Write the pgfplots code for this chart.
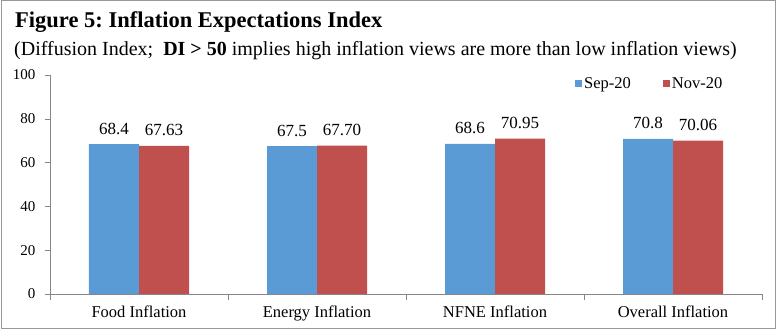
\documentclass[border=0pt]{standalone}
\usepackage{pgfplots}
\pgfplotsset{compat=1.18}
\usepackage{fontspec}
\setmainfont{Liberation Serif}
\definecolor{sepblue}{HTML}{5B9BD5}
\definecolor{novred}{HTML}{C0504D}
\definecolor{axgray}{HTML}{868686}
\begin{document}
\frenchspacing
\begin{tikzpicture}
\path[use as bounding box] (0pt,0pt) rectangle (780pt,332pt);
\draw[color=black!40, line width=1pt] (1.5pt,3.5pt) rectangle (775.5pt,331pt);
\node[anchor=base west, inner sep=0pt, font=\fontsize{22.5}{26}\selectfont\bfseries] at (15pt,304pt) {Figure 5: Inflation Expectations Index};
\node[anchor=base west, inner sep=0pt, font=\fontsize{20}{24}\selectfont] at (14pt,276pt) {(Diffusion Index;\ \ \textbf{DI > 50} implies high inflation views are more than low inflation views)};
\begin{axis}[
  at={(50pt,38pt)}, anchor=south west,
  width=712pt, height=219pt, scale only axis,
  xmin=-0.5, xmax=3.5, ymin=0, ymax=100,
  axis x line=bottom, axis y line=left,
  axis line style={axgray, -},
  tick align=outside,
  ytick={0,20,40,60,80,100},
  ytick style={axgray},
  major tick length=5pt,
  xtick={0,1,2,3},
  xticklabels={Food Inflation, Energy Inflation, NFNE Inflation, Overall Inflation},
  major x tick style={draw=none},
  minor xtick={-0.5,0.5,1.5,2.5,3.5},
  minor x tick style={axgray},
  minor tick length=6pt,
  /pgf/number format/assume math mode=true,
  yticklabel style={font=\fontsize{15}{18}\selectfont, xshift=-6pt},
  xticklabel style={font=\fontsize{16.5}{19}\selectfont, yshift=-3pt},
  ybar, bar width=50pt,
  nodes near coords, point meta=explicit symbolic,
  every node near coord/.append style={font=\fontsize{17}{20}\selectfont, anchor=base, yshift=10pt, inner sep=0pt},
  legend style={at={(0.733,0.962)}, anchor=west, draw=none, fill=none,
    font=\fontsize{16.5}{19}\selectfont,
    /tikz/every even column/.append style={column sep=30pt}},
  legend columns=2,
  legend image code/.code={\fill[#1] (0pt,-3.5pt) rectangle (7pt,3.5pt);},
]
\addplot[fill=sepblue, draw=none, bar shift=-25pt] table[x=x, y=y, meta=lab] {
x y lab
0 68.4 68.4
1 67.5 67.5
2 68.6 68.6
3 70.8 70.8
};
\addplot[fill=novred, draw=none, bar shift=25pt] table[x=x, y=y, meta=lab] {
x y lab
0 67.63 67.63
1 67.70 67.70
2 70.95 70.95
3 70.06 70.06
};
\legend{Sep-20, Nov-20}
\end{axis}
\end{tikzpicture}
\end{document}
